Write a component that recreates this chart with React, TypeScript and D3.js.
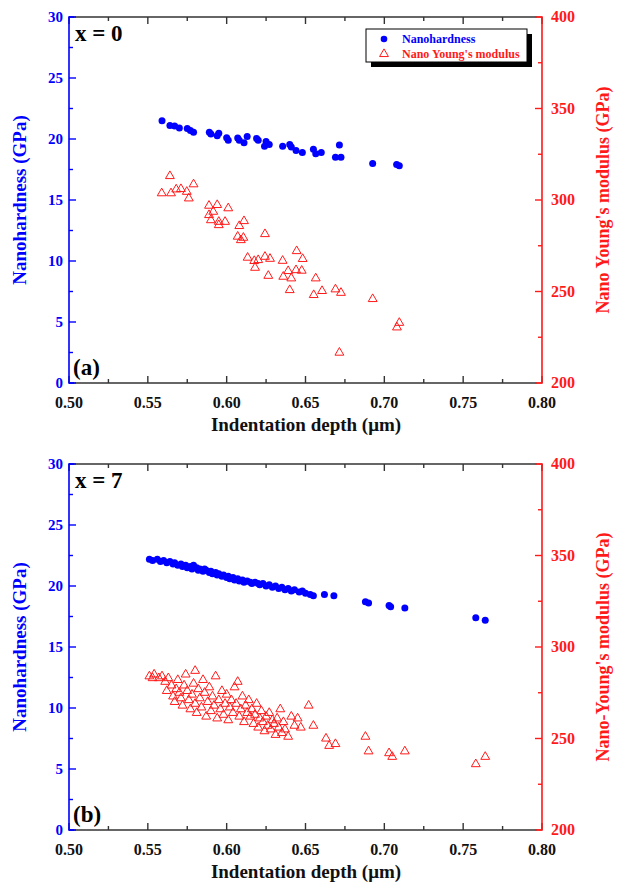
import React from 'react';
import * as d3 from 'd3';

// ---------- Data (x: indentation depth in µm) ----------
const hardnessA: [number, number][] = [
  [0.559, 21.5], [0.564, 21.1], [0.567, 21.07], [0.570, 20.9], [0.575, 20.87], [0.577, 20.7],
  [0.579, 20.55], [0.589, 20.55], [0.590, 20.4], [0.594, 20.27], [0.595, 20.47], [0.600, 20.1],
  [0.601, 19.9], [0.607, 20.08], [0.608, 19.9], [0.611, 19.7], [0.613, 20.2], [0.619, 20.05],
  [0.620, 19.9], [0.624, 19.4], [0.625, 19.8], [0.627, 19.55], [0.6355, 19.4], [0.640, 19.55],
  [0.641, 19.35], [0.644, 19.05], [0.648, 18.9], [0.655, 19.15], [0.6565, 18.8], [0.660, 18.9],
  [0.669, 18.5], [0.6715, 19.5], [0.6725, 18.5], [0.6926, 18.0], [0.7078, 17.9], [0.7095, 17.8],
];

const modulusA: [number, number][] = [
  [0.564, 313.1], [0.5588, 303.7], [0.5647, 303.7], [0.568, 305.8], [0.571, 306], [0.5747, 304.5],
  [0.576, 300.9], [0.579, 308.6], [0.5888, 296.9], [0.594, 297.3], [0.601, 295.5], [0.5888, 291.8],
  [0.590, 289], [0.5915, 293.6], [0.595, 288.1], [0.599, 288.1], [0.595, 286.3], [0.611, 288.5],
  [0.608, 285.8], [0.607, 280], [0.6106, 279.4], [0.609, 278.1], [0.6243, 281.4], [0.6133, 268.5],
  [0.6175, 266.7], [0.620, 267.2], [0.6243, 269], [0.6275, 267.9], [0.618, 263], [0.6355, 266.8],
  [0.6444, 272.1], [0.6482, 267.8], [0.6264, 258.6], [0.639, 261.2], [0.644, 261.7], [0.6476, 261.4],
  [0.6359, 258.1], [0.641, 257.2], [0.640, 250.8], [0.6565, 257.2], [0.6552, 248.1], [0.6605, 250.3],
  [0.669, 251.2], [0.6725, 249.3], [0.6926, 245.9], [0.7095, 232.9], [0.708, 230.4], [0.6715, 216.6],
];

const hardnessB: [number, number][] = [
  [0.551, 22.2], [0.553, 22.1], [0.556, 22.2], [0.558, 22.0], [0.560, 22.1], [0.562, 21.9],
  [0.564, 22.0], [0.566, 21.8], [0.567, 21.9], [0.569, 21.7], [0.571, 21.8], [0.572, 21.6],
  [0.574, 21.7], [0.575, 21.5], [0.577, 21.6], [0.578, 21.4], [0.579, 21.7], [0.581, 21.5],
  [0.582, 21.3], [0.583, 21.4], [0.585, 21.2], [0.586, 21.4], [0.587, 21.3], [0.589, 21.1],
  [0.590, 21.2], [0.591, 21.0], [0.593, 21.1], [0.594, 20.9], [0.595, 21.0], [0.597, 20.8],
  [0.598, 20.9], [0.600, 20.7], [0.601, 20.8], [0.602, 20.6], [0.604, 20.7], [0.605, 20.5],
  [0.607, 20.6], [0.608, 20.4], [0.610, 20.5], [0.611, 20.3], [0.613, 20.4], [0.615, 20.3],
  [0.616, 20.2], [0.618, 20.3], [0.620, 20.2], [0.621, 20.1], [0.623, 20.2], [0.625, 20.0],
  [0.627, 20.1], [0.629, 19.9], [0.631, 20.0], [0.633, 19.8], [0.635, 19.9], [0.637, 19.7],
  [0.639, 19.8], [0.641, 19.6], [0.643, 19.7], [0.646, 19.5], [0.648, 19.6], [0.650, 19.4],
  [0.653, 19.3], [0.655, 19.2], [0.662, 19.3], [0.668, 19.2], [0.688, 18.7], [0.690, 18.6],
  [0.703, 18.4], [0.704, 18.3], [0.713, 18.2], [0.758, 17.4], [0.764, 17.2],
];

const modulusB: [number, number][] = [
  [0.551, 284], [0.554, 285], [0.557, 283], [0.559, 284], [0.553, 283], [0.561, 281], [0.562, 276],
  [0.563, 283], [0.565, 279], [0.566, 273], [0.567, 270], [0.568, 277], [0.569, 282], [0.570, 275],
  [0.571, 272], [0.572, 268], [0.573, 279], [0.574, 285], [0.575, 276], [0.576, 271], [0.577, 266],
  [0.578, 274], [0.579, 280], [0.580, 287], [0.580, 269], [0.581, 264], [0.582, 277], [0.583, 272],
  [0.584, 267], [0.585, 282], [0.586, 275], [0.587, 262], [0.588, 270], [0.589, 278], [0.590, 265],
  [0.591, 273], [0.592, 268], [0.593, 284], [0.594, 261], [0.595, 271], [0.596, 266], [0.597, 276],
  [0.598, 263], [0.599, 269], [0.600, 274], [0.601, 260], [0.602, 267], [0.603, 271], [0.604, 264],
  [0.605, 278], [0.606, 269], [0.607, 281], [0.608, 262], [0.609, 266], [0.610, 273], [0.611, 259],
  [0.612, 268], [0.613, 264], [0.614, 271], [0.615, 262], [0.616, 266], [0.617, 258], [0.618, 263],
  [0.619, 269], [0.620, 256], [0.621, 261], [0.622, 265], [0.623, 259], [0.624, 254], [0.625, 262],
  [0.626, 257], [0.627, 264], [0.628, 255], [0.629, 260], [0.630, 258], [0.631, 252], [0.632, 261],
  [0.633, 256], [0.634, 266], [0.635, 253], [0.636, 259], [0.637, 255], [0.639, 251], [0.641, 262],
  [0.643, 257], [0.645, 261], [0.647, 256], [0.652, 268], [0.655, 257], [0.663, 250], [0.665, 246],
  [0.669, 247], [0.688, 251], [0.690, 243], [0.703, 242], [0.705, 240], [0.713, 243], [0.758, 236],
  [0.764, 240],
];

const xTicks = [0.5, 0.55, 0.6, 0.65, 0.7, 0.75, 0.8];
const xMinor = [0.525, 0.575, 0.625, 0.675, 0.725, 0.775];
const leftTicks = [0, 5, 10, 15, 20, 25, 30];
const leftMinor = [2.5, 7.5, 12.5, 17.5, 22.5, 27.5];
const rightTicks = [200, 250, 300, 350, 400];
const rightMinor = [225, 275, 325, 375];

const FONT = '"Liberation Serif", "Times New Roman", serif';
const BLUE = '#0000ff';
const RED = '#ff1a1a';
const AXIS = '#333333';

type PanelProps = {
  top: number;
  bottom: number;
  hard: [number, number][];
  mod: [number, number][];
  label: string;
  letter: string;
  rightTitle: string;
  legend: boolean;
};

function Panel({ top, bottom, hard, mod, label, letter, rightTitle, legend }: PanelProps) {
  const left = 69;
  const right = 542;
  const x = d3.scaleLinear().domain([0.5, 0.8]).range([left, right]);
  const yL = d3.scaleLinear().domain([0, 30]).range([bottom, top]);
  const yR = d3.scaleLinear().domain([200, 400]).range([bottom, top]);
  const tri = d3.symbol().type(d3.symbolTriangle).size(34)() as string;
  const mid = (top + bottom) / 2;
  const br = 5;

  return (
    <g>
      <line x1={left} x2={right - br} y1={top} y2={top} stroke={AXIS} strokeWidth={1.6} />
      <line x1={left} x2={right - br} y1={bottom} y2={bottom} stroke={AXIS} strokeWidth={1.6} />
      {xTicks.map((t) => (
        <g key={'xt' + t}>
          <line x1={x(t)} x2={x(t)} y1={bottom} y2={bottom - 7} stroke={AXIS} strokeWidth={1.4} />
          <line x1={x(t)} x2={x(t)} y1={top} y2={top + 7} stroke={AXIS} strokeWidth={1.4} />
          <text x={x(t)} y={bottom + 25} textAnchor="middle" fontFamily={FONT} fontWeight="bold" fontSize={16} fill="#111">
            {t.toFixed(2)}
          </text>
        </g>
      ))}
      {xMinor.map((t) => (
        <g key={'xm' + t}>
          <line x1={x(t)} x2={x(t)} y1={bottom} y2={bottom - 4} stroke={AXIS} strokeWidth={1.4} />
          <line x1={x(t)} x2={x(t)} y1={top} y2={top + 4} stroke={AXIS} strokeWidth={1.4} />
        </g>
      ))}

      <path d={`M${left + br},${top}H${left}V${bottom}H${left + br}`} fill="none" stroke={BLUE} strokeWidth={1.6} />
      {leftTicks.map((t) => (
        <g key={'lt' + t}>
          <line x1={left} x2={left + 7} y1={yL(t)} y2={yL(t)} stroke={BLUE} strokeWidth={1.4} />
          <text x={left - 6} y={yL(t) + 5} textAnchor="end" fontFamily={FONT} fontWeight="bold" fontSize={15} fill={BLUE}>
            {t}
          </text>
        </g>
      ))}
      {leftMinor.map((t) => (
        <line key={'lm' + t} x1={left} x2={left + 4} y1={yL(t)} y2={yL(t)} stroke={BLUE} strokeWidth={1.4} />
      ))}

      <path d={`M${right - br},${top}H${right}V${bottom}H${right - br}`} fill="none" stroke={RED} strokeWidth={1.6} />
      {rightTicks.map((t) => (
        <g key={'rt' + t}>
          <line x1={right} x2={right - 7} y1={yR(t)} y2={yR(t)} stroke={RED} strokeWidth={1.4} />
          <text x={right + 9} y={yR(t) + 5} textAnchor="start" fontFamily={FONT} fontWeight="bold" fontSize={16} fill={RED}>
            {t}
          </text>
        </g>
      ))}
      {rightMinor.map((t) => (
        <line key={'rm' + t} x1={right} x2={right - 4} y1={yR(t)} y2={yR(t)} stroke={RED} strokeWidth={1.4} />
      ))}

      <text x={306} y={bottom + 48} textAnchor="middle" fontFamily={FONT} fontWeight="bold" fontSize={19} fill="#111">
        Indentation depth (μm)
      </text>
      <text transform={`translate(26,${mid}) rotate(-90)`} textAnchor="middle" fontFamily={FONT} fontWeight="bold" fontSize={19} fill={BLUE}>
        Nanohardness (GPa)
      </text>
      <text transform={`translate(609,${mid}) rotate(-90)`} textAnchor="middle" fontFamily={FONT} fontWeight="bold" fontSize={18} fill={RED}>
        {rightTitle}
      </text>

      {mod.map(([a, b], i) => (
        <path key={'m' + i} d={tri} transform={`translate(${x(a)},${yR(b)})`} fill="white" fillOpacity={0} stroke={RED} strokeWidth={1} />
      ))}
      {hard.map(([a, b], i) => (
        <circle key={'h' + i} cx={x(a)} cy={yL(b)} r={3.5} fill={BLUE} />
      ))}

      <text x={75} y={top + 24} fontFamily={FONT} fontWeight="bold" fontSize={23} fill="#000">
        {label}
      </text>
      <text x={73} y={bottom - 8} fontFamily={FONT} fontWeight="bold" fontSize={23} fill="#000">
        {letter}
      </text>

      {legend && (
        <g>
          <rect x={371} y={34} width={161} height={33} fill="#000" />
          <rect x={366} y={29} width={161} height={33} fill="#fff" stroke="#000" strokeWidth={1} />
          <circle cx={384} cy={39} r={3.3} fill={BLUE} />
          <text x={402} y={43} fontFamily={FONT} fontWeight="bold" fontSize={12} fill={BLUE}>
            Nanohardness
          </text>
          <path d={tri} transform="translate(384,54)" fill="none" stroke={RED} strokeWidth={1} />
          <text x={402} y={58} fontFamily={FONT} fontWeight="bold" fontSize={12} fill={RED}>
            Nano Young's modulus
          </text>
        </g>
      )}
    </g>
  );
}

export default function App() {
  return (
    <svg width={623} height={892} style={{ position: 'absolute', left: 0, top: 0, background: '#fff' }}>
      <rect width={623} height={892} fill="#fff" />
      <Panel top={17} bottom={383} hard={hardnessA} mod={modulusA} label="x = 0" letter="(a)"
        rightTitle="Nano Young's modulus (GPa)" legend={true} />
      <Panel top={464} bottom={830} hard={hardnessB} mod={modulusB} label="x = 7" letter="(b)"
        rightTitle="Nano-Young's modulus (GPa)" legend={false} />
    </svg>
  );
}
